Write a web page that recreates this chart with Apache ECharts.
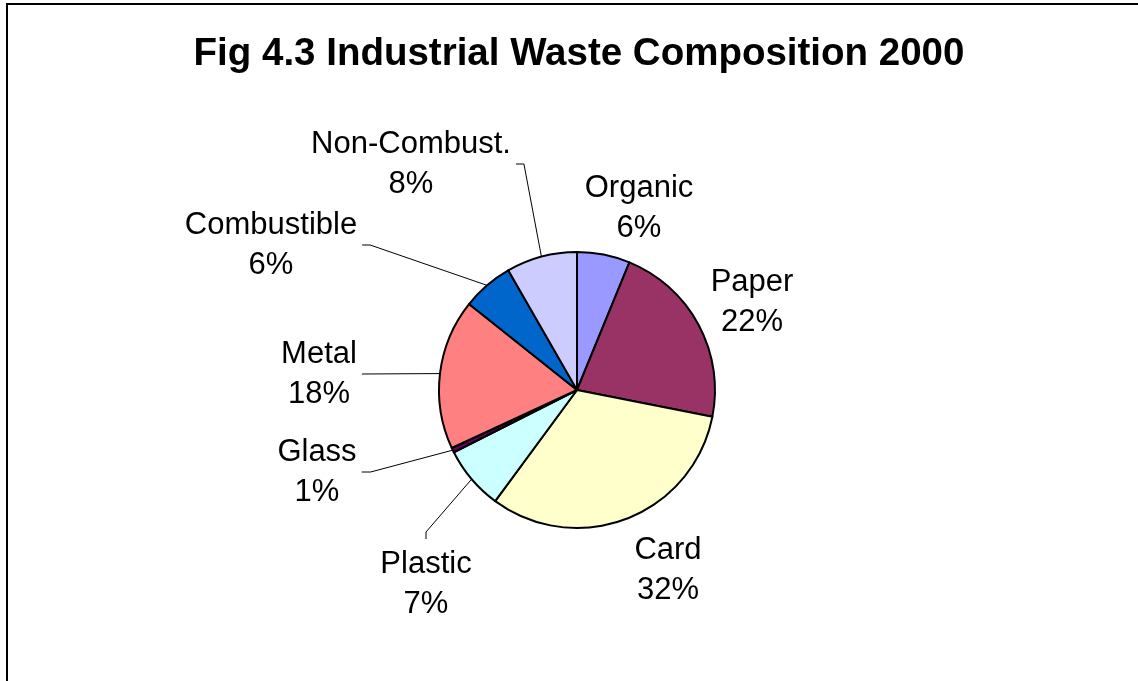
<!DOCTYPE html>
<html>
<head>
<meta charset="utf-8">
<script src="https://cdn.jsdelivr.net/npm/echarts@6/dist/echarts.min.js"></script>
<style>
  html, body { margin: 0; padding: 0; background: #ffffff; }
  #chart { width: 1138px; height: 681px; }
</style>
</head>
<body>
<div id="chart"></div>
<script>
// Waste categories, clockwise from 12 o'clock
const categories = ['Organic', 'Paper', 'Card', 'Plastic', 'Glass', 'Metal', 'Combustible', 'Non-Combust.'];
// Share of total industrial waste, percent
const shares = [6.2, 21.9, 32.0, 7.45, 0.55, 17.6, 6.0, 8.3];
const sliceColors = ['#9999FF', '#993366', '#FFFFCC', '#CCFFFF', '#660066', '#FF8080', '#0066CC', '#CCCCFF'];

// Pie geometry (px)
const PIE_CENTER = [577, 390];
const PIE_RADIUS = 138;

// Where each label sits (offset of its centre from the pie centre) and
// which side of the label its leader line leaves from.
const labelPlacement = [
  { dx: 62,   dy: -182, side: null },
  { dx: 175,  dy: -88,  side: null },
  { dx: 91,   dy: 180,  side: null },
  { dx: -151, dy: 194,  side: 'top',   tick: 7 },
  { dx: -260, dy: 82,   side: 'right', tick: 9 },
  { dx: -258, dy: -16,  side: 'right', tick: 0 },
  { dx: -306, dy: -145, side: 'right', tick: 8 },
  { dx: -166, dy: -226, side: 'right', tick: 8 }
];
const withLeader = labelPlacement.map(p => p.side !== null);

const chart = echarts.init(document.getElementById('chart'), null, { renderer: 'canvas' });

const pieData = categories.map((name, i) => ({
  name: name,
  value: shares[i],
  itemStyle: { color: sliceColors[i] },
  labelLine: { show: withLeader[i] }
}));

chart.setOption({
  animation: false,
  backgroundColor: '#ffffff',
  title: {
    text: 'Fig 4.3 Industrial Waste Composition 2000',
    left: 574,
    top: 30,
    textAlign: 'center',
    textStyle: {
      fontFamily: 'Liberation Sans, Arial, sans-serif',
      fontWeight: 'bold',
      fontSize: 38.5,
      color: '#000000'
    }
  },
  graphic: [{
    type: 'rect',
    shape: { x: 7, y: 4, width: 1200, height: 800 },
    style: { fill: 'none', stroke: '#000000', lineWidth: 2 },
    silent: true
  }],
  series: [{
    type: 'pie',
    center: PIE_CENTER,
    radius: PIE_RADIUS,
    startAngle: 90,
    clockwise: true,
    avoidLabelOverlap: false,
    percentPrecision: 0,
    itemStyle: { borderColor: '#000000', borderWidth: 2 },
    emphasis: { disabled: true },
    label: {
      show: true,
      position: 'outside',
      alignTo: 'none',
      formatter: '{b}\n{d}%',
      fontFamily: 'Liberation Sans, Arial, sans-serif',
      fontSize: 31,
      lineHeight: 40,
      color: '#000000'
    },
    labelLine: {
      show: true,
      length: 10,
      length2: 10,
      lineStyle: { color: '#000000', width: 1 }
    },
    labelLayout: function (p) {
      const place = labelPlacement[p.dataIndex];
      const x = PIE_CENTER[0] + place.dx;
      const y = PIE_CENTER[1] + place.dy;
      const w = p.labelRect.width;
      const h = p.labelRect.height;
      const out = { x: x, y: y, align: 'center', verticalAlign: 'middle' };
      if (place.side && p.labelLinePoints) {
        const arcPoint = p.labelLinePoints[0];
        let anchor, tickEnd;
        if (place.side === 'right') {
          anchor = [x + w / 2 + 5, y];
          tickEnd = [anchor[0] + place.tick, y];
        } else {
          anchor = [x, y - h / 2 - 5];
          tickEnd = [x, anchor[1] - place.tick];
        }
        out.labelLinePoints = [arcPoint, tickEnd, anchor];
      }
      return out;
    },
    data: pieData
  }]
});
</script>
</body>
</html>
